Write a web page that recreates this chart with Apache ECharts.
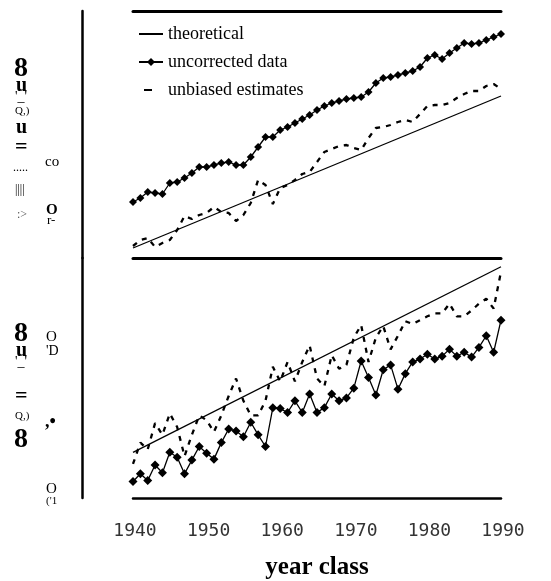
<!DOCTYPE html>
<html>
<head>
<meta charset="utf-8">
<title>year class</title>
<style>
    html, body{
        margin: 0;
        padding: 0;
        background-color: #fff;
    }
    #chart{
        width: 551px;
        height: 581px;
    }
</style>
</head>
<body>
<div id="chart"></div>
<script src="https://cdn.jsdelivr.net/npm/echarts@6/dist/echarts.min.js"></script>
<script>
    // x categories
    var years = [1940,1941,1942,1943,1944,1945,1946,1947,1948,1949,
                 1950,1951,1952,1953,1954,1955,1956,1957,1958,1959,
                 1960,1961,1962,1963,1964,1965,1966,1967,1968,1969,
                 1970,1971,1972,1973,1974,1975,1976,1977,1978,1979,
                 1980,1981,1982,1983,1984,1985,1986,1987,1988,1989,1990];
    var xTicks = [1940, 1950, 1960, 1970, 1980, 1990];

    // top panel
    var theoryYears = [1940, 1990];
    var theoryTop = [10, 162];
    var uncorrectedTop = [56,60,66,65,64,75,76,80,85,91,
                          91,93,95,96,93,93,101,111,121,121,
                          128,131,135,139,143,148,152,155,157,159,
                          160,161,166,175,180,181,183,185,187,191,
                          200,203,199,205,210,215,214,215,218,221,224];
    var unbiasedTop = [12,18,20,11,15,18,28,42,39,43,
                       45,51,46,45,37,43,55,78,73,54,
                       70,73,78,84,86,96,106,109,112,113,
                       110,108,120,130,131,133,136,138,136,144,
                       152,153,153,155,160,164,167,167,172,174,169];

    // bottom panel
    var theoryBottom = [47, 238];
    var uncorrectedBottom = [17,25,18,34,26,47,42,25,39,53,
                             46,40,57,71,69,63,78,65,53,93,
                             92,88,100,88,107,88,93,107,100,103,
                             113,141,124,106,132,137,112,128,140,143,
                             148,143,146,153,146,150,145,155,167,150,183];
    var unbiasedBottom = [35,57,50,77,65,87,73,43,65,85,
                          80,68,85,105,123,100,85,85,100,135,
                          120,140,120,140,157,123,115,147,133,137,
                          165,178,140,165,177,153,167,182,179,183,
                          187,190,190,200,187,187,193,200,205,195,233];

    function pairs(xs, vs){
        return xs.map(function (x, i) { return [x, vs[i]]; });
    }

    var serif = '"Liberation Serif", "DejaVu Serif", serif';

    // y axis writing, kept as it reads
    function glyph(txt, x, y, size, bold, color){
        return {
            type: 'text', left: x, top: y, silent: true,
            style: {
                text: txt, fontFamily: serif, fontSize: size,
                fontWeight: bold ? 'bold' : 'normal',
                fill: color || '#000', align: 'center'
            }
        };
    }
    var yWriting = [
        glyph('8', 14, 55, 28, true),
        glyph('u', 16, 76, 20, true),
        glyph("'_'", 15, 90, 14, false),
        glyph('Q,)', 15, 106, 11, false),
        glyph('u', 16, 118, 20, true),
        glyph('=', 15, 136, 22, true),
        glyph('.....', 13, 162, 12, false),
        glyph('||||', 15, 184, 12, false),
        glyph(':>', 17, 209, 12, false, '#555'),
        glyph('co', 45, 155, 15, false),
        glyph('O', 46, 203, 15, true),
        glyph('r-', 47, 214, 13, false),
        glyph('8', 14, 320, 28, true),
        glyph('u', 16, 341, 20, true),
        glyph("'_'", 15, 355, 14, false),
        glyph('=', 15, 385, 22, true),
        glyph('Q,)', 15, 411, 11, false),
        glyph('8', 14, 426, 28, true),
        glyph('O', 46, 330, 15, false),
        glyph("'D", 46, 344, 14, false),
        glyph(',•', 45, 413, 18, true),
        glyph('O', 46, 482, 15, false),
        glyph("('1", 46, 496, 11, false)
    ];

    var myChart = echarts.init(document.getElementById('chart'), null, {renderer: 'canvas'});
    var lineAxis = function (w) { return {show: true, onZero: false, lineStyle: {color: '#000', width: w}}; };
    var ghost = {textShadowColor: '#000', textShadowOffsetX: 1, textShadowBlur: 0};
    var noMark = {color: 'rgba(0,0,0,0)', borderWidth: 0};

    option = {
        animation: false,
        backgroundColor: '#fff',
        grid: [
            {left: 133, right: 50, top: 11, height: 247},
            {left: 133, right: 50, top: 258, height: 247}
        ],
        xAxis: [
            {gridIndex: 0, type: 'value', min: 1940, max: 1990, position: 'top',
             axisLine: lineAxis(3), axisTick: {show: false}, axisLabel: {show: false}, splitLine: {show: false}},
            {gridIndex: 1, type: 'value', min: 1940, max: 1990, position: 'top',
             axisLine: lineAxis(3), axisTick: {show: false}, axisLabel: {show: false}, splitLine: {show: false}},
            {gridIndex: 1, type: 'value', min: 1940, max: 1990, interval: 10, position: 'bottom',
             axisLine: lineAxis(2.5), axisTick: {show: false}, splitLine: {show: false},
             axisLabel: {
                 margin: 24, color: '#333', fontSize: 18, padding: [0, 0, 0, 4],
                 fontFamily: '"DejaVu Sans Mono", monospace',
                 customValues: xTicks,
                 formatter: function (v) { return String(v); }
             },
             name: 'year class', nameLocation: 'middle', nameGap: 57,
             nameTextStyle: {fontFamily: serif, fontSize: 25, fontWeight: 'bold', color: '#000'}}
        ],
        yAxis: [
            {gridIndex: 0, type: 'value', min: 0, max: 247, offset: 51,
             axisLine: lineAxis(2.5), axisTick: {show: false}, axisLabel: {show: false}, splitLine: {show: false}},
            {gridIndex: 1, type: 'value', min: 0, max: 247, offset: 51,
             axisLine: lineAxis(2.5), axisTick: {show: false}, axisLabel: {show: false}, splitLine: {show: false}}
        ],
        legend: {
            orient: 'vertical', left: 133, top: 19,
            itemWidth: 24, itemHeight: 10, itemGap: 8,
            textStyle: {fontFamily: serif, fontSize: 18, color: '#000', lineHeight: 20},
            data: [
                {name: 'theoretical', itemStyle: noMark, textStyle: ghost},
                {name: 'uncorrected data', textStyle: ghost},
                {name: 'unbiased estimates', itemStyle: noMark,
                 lineStyle: {type: [8, 40], dashOffset: -5, width: 2}}
            ]
        },
        graphic: yWriting,
        series: [
            {name: 'theoretical', type: 'line', xAxisIndex: 0, yAxisIndex: 0,
             data: pairs(theoryYears, theoryTop), symbol: 'none',
             lineStyle: {color: '#000', width: 1.3}, itemStyle: {color: '#000'}},
            {name: 'uncorrected data', type: 'line', xAxisIndex: 0, yAxisIndex: 0,
             data: pairs(years, uncorrectedTop), symbol: 'diamond', symbolSize: 8,
             lineStyle: {color: '#000', width: 1.3}, itemStyle: {color: '#000'}},
            {name: 'unbiased estimates', type: 'line', xAxisIndex: 0, yAxisIndex: 0,
             data: pairs(years, unbiasedTop), symbol: 'none',
             lineStyle: {color: '#000', width: 2.3, type: [5, 6]}, itemStyle: {color: '#000'}},
            {name: 'theoretical', type: 'line', xAxisIndex: 2, yAxisIndex: 1,
             data: pairs(theoryYears, theoryBottom), symbol: 'none',
             lineStyle: {color: '#000', width: 1.3}, itemStyle: {color: '#000'}},
            {name: 'uncorrected data', type: 'line', xAxisIndex: 2, yAxisIndex: 1,
             data: pairs(years, uncorrectedBottom), symbol: 'diamond', symbolSize: 9,
             lineStyle: {color: '#000', width: 1.3}, itemStyle: {color: '#000'}},
            {name: 'unbiased estimates', type: 'line', xAxisIndex: 2, yAxisIndex: 1,
             data: pairs(years, unbiasedBottom), symbol: 'none',
             lineStyle: {color: '#000', width: 2.3, type: [5, 6]}, itemStyle: {color: '#000'}}
        ]
    };
    myChart.setOption(option);
</script>
</body>
</html>
